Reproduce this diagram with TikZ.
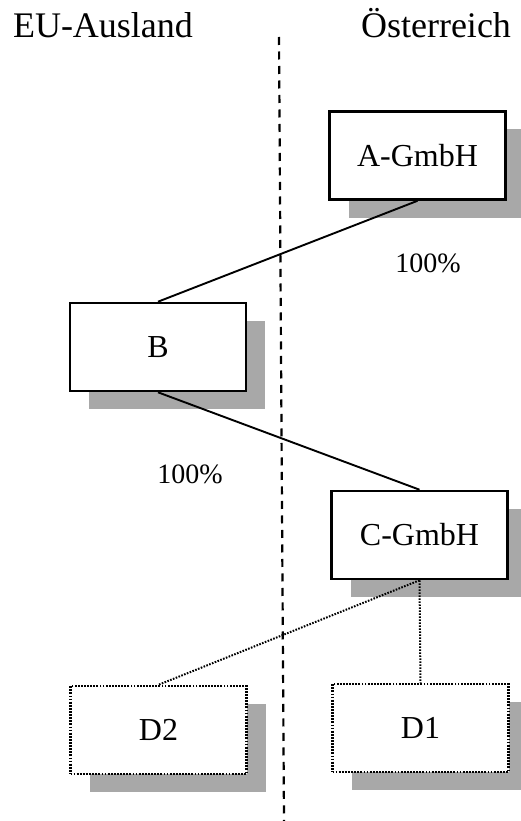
\documentclass[tikz,border=0pt]{standalone}
\usepackage{fontspec}
\setmainfont{Liberation Serif}
\usetikzlibrary{shadows}
\definecolor{shadowc}{gray}{0.66}
\tikzset{
  orgbox/.style={draw=black, line width=2.6pt, fill=white, minimum width=176pt, minimum height=88pt,
    inner sep=0pt, font=\fontsize{32pt}{36pt}\selectfont,
    general shadow={fill=shadowc, draw=none, shadow xshift=19pt, shadow yshift=-18pt}},
  dotbox/.style={orgbox, line width=2.4pt, dash pattern=on 1.8pt off 1.3pt},
  link/.style={line width=1.9pt},
  dotlink/.style={line width=2pt, dash pattern=on 1.6pt off 1.4pt},
  title/.style={anchor=base, inner sep=0pt, font=\fontsize{36pt}{40pt}\selectfont},
  pct/.style={anchor=base, inner sep=0pt, font=\fontsize{28pt}{32pt}\selectfont},
  border/.style={line width=2.2pt, dash pattern=on 8pt off 6.5pt}
}
\begin{document}
\begin{tikzpicture}[x=1pt,y=-1pt]
\useasboundingbox (0,0) rectangle (521,821);
\node[title] (eu) at (103,38) {EU-Ausland};
\node[title] (at) at (436,38) {Österreich};
\coordinate (lt) at (279,37);
\coordinate (lb) at (284,821);
\draw[border] (lt) -- (lb);
\node[orgbox] (A) at (417.5,155.5) {A-GmbH};
\node[orgbox] (B) at (158,347) {B};
\node[orgbox] (C) at (419.5,535) {C-GmbH};
\node[dotbox] (D2) at (158.5,730) {D2};
\node[dotbox] (D1) at (420.5,728) {D1};
\draw[link] (A.south) -- (B.north);
\draw[link] (B.south) -- (C.north);
\draw[dotlink] (C.south) -- (D2.north);
\draw[dotlink] (C.south) -- (D1.north);
\node[pct] (p1) at (428,272) {100\%};
\node[pct] (p2) at (190,483) {100\%};
\end{tikzpicture}
\end{document}
